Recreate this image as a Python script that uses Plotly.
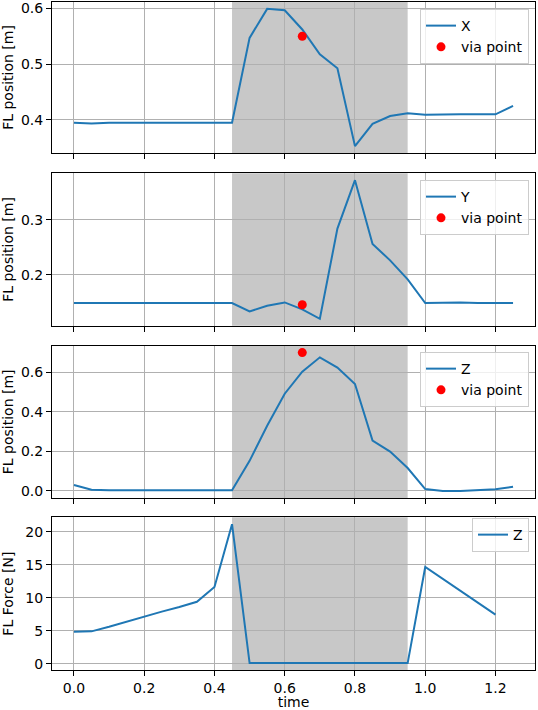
import plotly.graph_objects as go
import numpy as np

# time samples of the swing trajectory
time = [0.0, 0.05, 0.1, 0.15, 0.2, 0.25, 0.3, 0.35, 0.4, 0.45, 0.5, 0.55, 0.6,
        0.65, 0.7, 0.75, 0.8, 0.85, 0.9, 0.95, 1.0, 1.05, 1.1, 1.15, 1.2, 1.25]

pos_x = [0.395, 0.3935, 0.395, 0.395, 0.395, 0.395, 0.395, 0.395, 0.395, 0.395,
         0.547, 0.599, 0.5965, 0.562, 0.5175, 0.4926, 0.353, 0.393, 0.407, 0.412,
         0.409, 0.410, 0.410, 0.410, 0.410, 0.425]
pos_y = [0.1485, 0.1485, 0.1485, 0.1485, 0.1485, 0.1485, 0.1485, 0.1485, 0.1485, 0.1485,
         0.1333, 0.1436, 0.1497, 0.137, 0.12, 0.2836, 0.3715, 0.2558, 0.226, 0.1915,
         0.1485, 0.1497, 0.1497, 0.1485, 0.1485, 0.1485]
pos_z = [0.029, 0.005, 0.002, 0.002, 0.002, 0.002, 0.002, 0.002, 0.002, 0.002,
         0.151, 0.329, 0.4915, 0.603, 0.676, 0.624, 0.541, 0.254, 0.198, 0.115,
         0.008, -0.002, -0.002, 0.002, 0.007, 0.02]

force_time = time[:25]
force_z = [4.86, 4.91, 5.6, 6.4, 7.2, 7.9, 8.6, 9.4, 11.65, 21.16,
           0.1, 0.1, 0.1, 0.1, 0.1, 0.1, 0.1, 0.1, 0.1, 0.1,
           14.68, 12.9, 11.1, 9.3, 7.44]

via_time = 0.65
via_pos = [0.55, 0.1455, 0.70]

swing_start, swing_end = 0.45, 0.95

BLUE = '#1f77b4'
FONT = 'DejaVu Sans'


def padded(vals):
    lo, hi = min(vals), max(vals)
    pad = (hi - lo) * 0.05
    return [lo - pad, hi + pad]


domains = [[0.774, 1.0], [0.5154, 0.7436], [0.2575, 0.4855], [0.0, 0.2286]]
legend_tops = [0.9895, 0.7335, 0.476, 0.2275]

fig = go.Figure()

series = [('X', pos_x, via_pos[0]), ('Y', pos_y, via_pos[1]), ('Z', pos_z, via_pos[2])]
for i, (name, vals, via) in enumerate(series):
    ax = '' if i == 0 else str(i + 1)
    leg = 'legend' if i == 0 else 'legend' + str(i + 1)
    fig.add_trace(go.Scatter(x=time, y=vals, mode='lines', name=name,
                             line=dict(color=BLUE, width=2),
                             xaxis='x' + ax, yaxis='y' + ax, legend=leg))
    fig.add_trace(go.Scatter(x=[via_time], y=[via], mode='markers', name='via point',
                             marker=dict(color='red', size=9),
                             xaxis='x' + ax, yaxis='y' + ax, legend=leg))

fig.add_trace(go.Scatter(x=force_time, y=force_z, mode='lines', name='Z',
                         line=dict(color=BLUE, width=2),
                         xaxis='x4', yaxis='y4', legend='legend4'))

axis_style = dict(showgrid=True, gridcolor='#b0b0b0', gridwidth=1, zeroline=False,
                  showline=True, linecolor='black', linewidth=1, mirror=True,
                  ticks='outside', ticklen=5, tickcolor='black', automargin=False,
                  ticklabeloverflow='allow',
                  tickfont=dict(family=FONT, size=14, color='black'))

y_ranges = [padded(pos_x + [via_pos[0]]), padded(pos_y + [via_pos[1]]),
            padded(pos_z + [via_pos[2]]), padded(force_z)]
y_dticks = [0.1, 0.1, 0.2, 5]
y_formats = ['.1f', '.1f', '.1f', 'd']
y_titles = ['FL position [m]', 'FL position [m]', 'FL position [m]', 'FL Force [N]']

layout = dict(width=538, height=710, margin=dict(l=52, r=3, t=2, b=40, autoexpand=False),
              plot_bgcolor='white', paper_bgcolor='white',
              font=dict(family=FONT, size=14, color='black'))

for i in range(4):
    ax = '' if i == 0 else str(i + 1)
    layout['xaxis' + ax] = dict(axis_style, domain=[0, 1], anchor='y' + ax,
                                range=[-0.0625, 1.3125], dtick=0.2, tick0=0,
                                tickformat='.1f', showticklabels=(i == 3),
                                title=dict(text='time' if i == 3 else '', standoff=4,
                                           font=dict(family=FONT, size=14)))
    layout['yaxis' + ax] = dict(axis_style, domain=domains[i], anchor='x' + ax,
                                range=y_ranges[i], dtick=y_dticks[i], tick0=0,
                                tickformat=y_formats[i],
                                title=dict(text=y_titles[i], standoff=8,
                                           font=dict(family=FONT, size=14)))
    leg = 'legend' if i == 0 else 'legend' + str(i + 1)
    layout[leg] = dict(x=0.9876, y=legend_tops[i], xanchor='right', yanchor='top',
                       bgcolor='rgba(255,255,255,0.8)', bordercolor='#cccccc',
                       borderwidth=1, font=dict(family=FONT, size=14),
                       tracegroupgap=0, itemwidth=30)
    fig.add_shape(type='rect', xref='x' + ax, yref='y' + ax + ' domain',
                  x0=swing_start, x1=swing_end, y0=0, y1=1,
                  fillcolor='#c8c8c8', line=dict(width=0), layer='below')

fig.update_layout(**layout)
# the page's default body margin would shift the figure by 8px
fig.write_html("out.html", config={'displayModeBar': False},
               post_script="document.body.style.margin = '0';")
